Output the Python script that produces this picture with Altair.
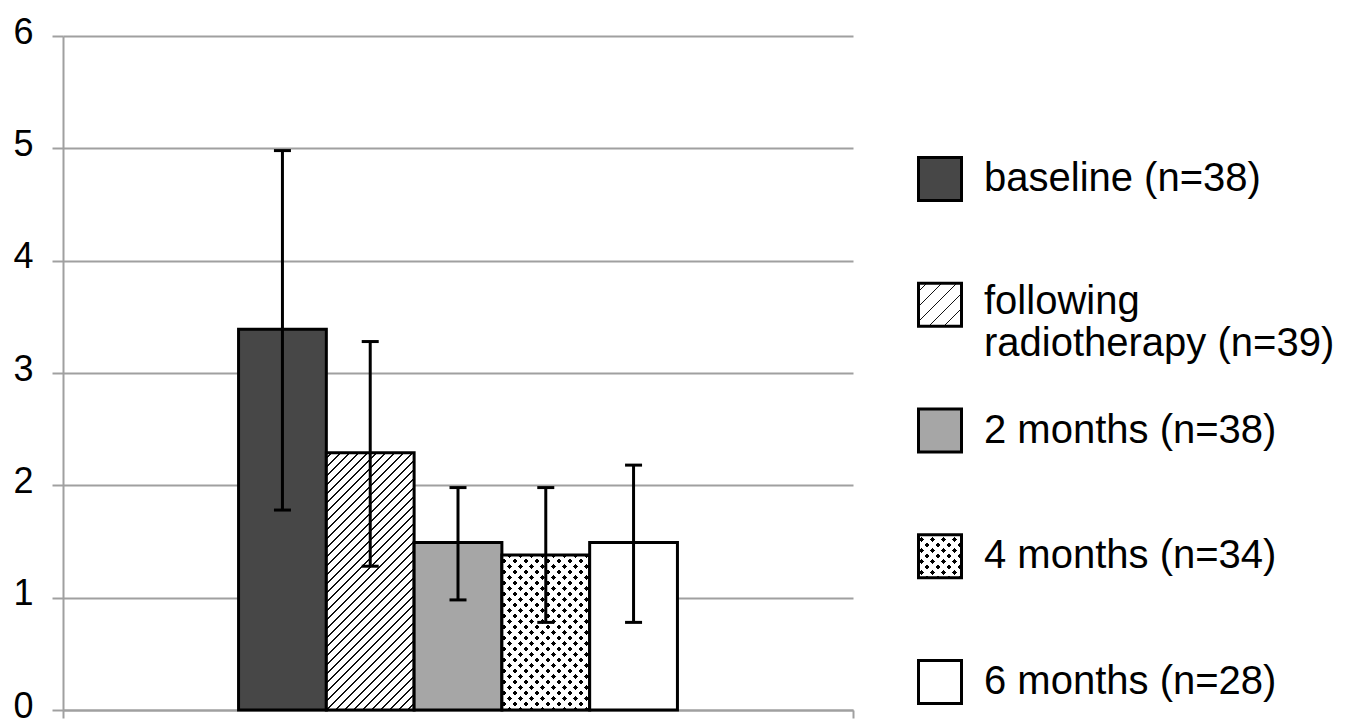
import altair as alt
import pandas as pd

# ---------------- data ----------------
categories = ["baseline (n=38)", "following radiotherapy (n=39)", "2 months (n=38)",
              "4 months (n=34)", "6 months (n=28)"]
legend_labels = ["baseline (n=38)", "following\nradiotherapy (n=39)", "2 months (n=38)",
                 "4 months (n=34)", "6 months (n=28)"]
means = [3.39, 2.29, 1.49, 1.38, 1.49]
lows = [1.78, 1.28, 0.98, 0.78, 0.78]
highs = [4.98, 3.28, 1.98, 1.98, 2.18]
y_ticks = [0, 1, 2, 3, 4, 5, 6]

# ---------------- layout / style ----------------
W, H = 790, 674
Y_MAX = 6
X_DOMAIN = [-2.5, 6.5]
BAR_W = W / (X_DOMAIN[1] - X_DOMAIN[0])
FONT = "Liberation Sans"
GRID = "#a0a0a0"
SW = 43  # legend swatch side

df = pd.DataFrame({
    "cat": categories, "label": legend_labels, "mean": means,
    "low": lows, "high": highs, "i": list(range(len(categories))),
})


def stripes(w, h, period, line, fg, bg, direction="/"):
    """Linear gradient with hard stops that draws 45-degree stripes."""
    L = w + h
    s = L / (w * w + h * h)
    stops = []
    k = -1
    while True:
        a = k * period + period / 2.0
        if a > L:
            break
        b = a + line
        c = a + period
        for off, col in ((a, fg), (b, fg), (b, bg), (c, bg)):
            t = min(max(off / L, 0.0), 1.0)
            stops.append({"offset": round(t, 5), "color": col})
        k += 1
    if direction == "/":
        x1, y1, x2, y2 = 0, 0, s * w, s * h
    else:
        x1, y1, x2, y2 = 0, 1, s * w, 1 - s * h
    return {"gradient": "linear", "x1": x1, "y1": y1, "x2": x2, "y2": y2, "stops": stops}


def fills_for(idx, w, h, legend=False):
    hatch_period = 15 if legend else 9
    if idx == 0:
        return ["#474747"]
    if idx == 1:
        return [stripes(w, h, hatch_period, 1.6, "#111111", "#ffffff", "/")]
    if idx == 2:
        return ["#a6a6a6"]
    if idx == 3:
        return [stripes(w, h, 11, 5, "#000000", "#ffffff", "/"),
                stripes(w, h, 11, 5, "rgba(255,255,255,0)", "#ffffff", "\\")]
    return ["#ffffff"]


# ---------------- main chart ----------------
x_axis = alt.Axis(values=X_DOMAIN, labels=False, ticks=True, tickSize=8, tickColor=GRID,
                  tickWidth=2, domainColor=GRID, domainWidth=2, grid=False, title=None)
y_axis = alt.Axis(values=y_ticks, grid=True, gridColor=GRID, gridWidth=2, domainColor=GRID,
                  domainWidth=2, tickColor=GRID, tickWidth=2, tickSize=11, labelFont=FONT,
                  labelFontSize=36, labelColor="black", labelPadding=19, labelOffset=-4,
                  title=None)
x_scale = alt.Scale(domain=X_DOMAIN, nice=False, zero=False)
y_scale = alt.Scale(domain=[0, Y_MAX], nice=False)

base = alt.Chart(df).transform_calculate(
    xa="datum.i - 0.5", xb="datum.i + 0.5"
)

layers = []
for idx, c in enumerate(categories):
    h = means[idx] / Y_MAX * H
    fl = fills_for(idx, BAR_W, h)
    for j, f in enumerate(fl):
        last = j == len(fl) - 1
        mk = dict(fill=f)
        if last:
            mk.update(stroke="black", strokeWidth=3)
        else:
            mk.update(strokeWidth=0)
        layers.append(
            base.transform_filter(alt.datum.cat == c).mark_rect(**mk).encode(
                x=alt.X("xa:Q", scale=x_scale, axis=x_axis),
                x2="xb:Q",
                y=alt.Y("mean:Q", scale=y_scale, axis=y_axis),
                y2=alt.datum(0),
            )
        )

err = base.mark_rule(color="black", strokeWidth=3).encode(
    x=alt.X("i:Q", scale=x_scale, axis=x_axis),
    y=alt.Y("low:Q", scale=y_scale, axis=y_axis),
    y2="high:Q",
)
cap_lo = base.mark_tick(orient="horizontal", size=17, thickness=3, color="black", opacity=1).encode(
    x=alt.X("i:Q", scale=x_scale, axis=x_axis),
    y=alt.Y("low:Q", scale=y_scale, axis=y_axis),
)
cap_hi = base.mark_tick(orient="horizontal", size=17, thickness=3, color="black", opacity=1).encode(
    x=alt.X("i:Q", scale=x_scale, axis=x_axis),
    y=alt.Y("high:Q", scale=y_scale, axis=y_axis),
)

main = alt.layer(*layers, err, cap_lo, cap_hi).properties(width=W, height=H)

# ---------------- legend (custom, to show patterns) ----------------
leg_base = alt.Chart(df)
y_leg = alt.Y("label:N",
              scale=alt.Scale(type="point", domain=legend_labels, range=[143, 646], padding=0),
              axis=None, sort=legend_labels)

leg_layers = []
for idx, lab in enumerate(legend_labels):
    fl = fills_for(idx, SW, SW, legend=True)
    for j, f in enumerate(fl):
        last = j == len(fl) - 1
        mk = dict(fill=f, size=SW * SW, opacity=1, fillOpacity=1)
        if last:
            mk.update(stroke="black", strokeWidth=3)
        else:
            mk.update(strokeWidth=0)
        leg_layers.append(
            leg_base.transform_filter(alt.datum.label == lab).mark_square(**mk).encode(
                x=alt.value(46), y=y_leg
            )
        )

txt1 = leg_base.transform_filter(alt.datum.i != 1).mark_text(
    align="left", baseline="middle", font=FONT, fontSize=40, color="black"
).encode(x=alt.value(90), y=y_leg, text="label:N")
txt2 = leg_base.transform_filter(alt.datum.i == 1).mark_text(
    align="left", baseline="middle", font=FONT, fontSize=40, color="black",
    lineBreak="\n", lineHeight=42, dy=-3
).encode(x=alt.value(90), y=y_leg, text="label:N")

legend = alt.layer(*leg_layers, txt1, txt2).properties(width=452, height=H)

chart = alt.hconcat(main, legend, spacing=40).configure_view(stroke=None).properties(
    padding={"left": 4, "top": 6, "right": 0, "bottom": 0},
    background="white",
)

chart.save("out.html", embed_options={"renderer": "svg", "actions": False})
